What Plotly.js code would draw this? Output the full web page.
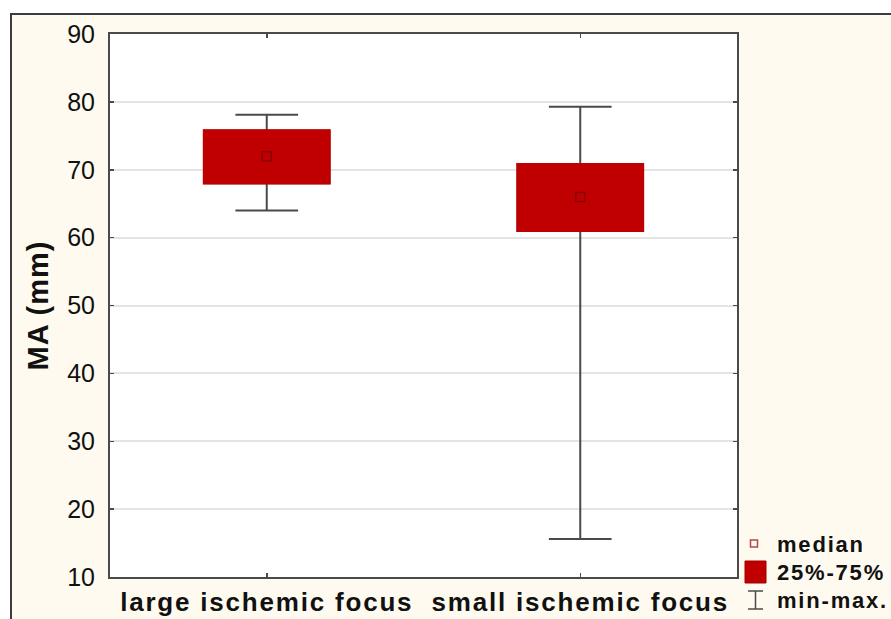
<!DOCTYPE html>
<html>
<head>
<meta charset="utf-8">
<script src="https://cdn.plot.ly/plotly-3.0.1.min.js"></script>
<style>
html, body { margin: 0; padding: 0; background: #ffffff; }
#chart { width: 891px; height: 619px; }
.xtick text { letter-spacing: 1.8px; }
.ytitle { letter-spacing: 1px; }
.annotation-text { letter-spacing: 1.8px; }
</style>
</head>
<body>
<div id="chart"></div>
<script>
// ---- data ----
const categories = ["large ischemic focus", "small ischemic focus"];
const minVals    = [64.0, 15.6];
const q1Vals     = [68.0, 61.0];
const medianVals = [72.0, 66.0];
const q3Vals     = [75.8, 70.8];
const maxVals    = [78.1, 79.3];
const yTicks     = [10, 20, 30, 40, 50, 60, 70, 80, 90];
const legendLabels = ["median", "25%-75%", "min-max."];

// ---- styling ----
const RED = "#c00000";
const DARKRED = "#a00000";
const GREY = "#4a4a4a";
const CREAM = "#fffaf0";

// plot area in pixels (for converting decoration positions)
const L = 110, R = 737, T = 34, B = 577;
const px = v => (v - L) / (R - L);
const py = v => (B - v) / (B - T);

const whiskerTrace = {
  type: "box",
  name: legendLabels[2],
  x: categories,
  q1: q1Vals, median: medianVals, q3: q3Vals,
  lowerfence: minVals, upperfence: maxVals,
  boxpoints: false,
  width: 0.4,
  whiskerwidth: 0.5,
  fillcolor: RED,
  line: { color: GREY, width: 2 },
  showlegend: false,
  hoverinfo: "skip"
};
const iqrTrace = {
  type: "box",
  name: legendLabels[1],
  x: categories,
  q1: q1Vals, median: medianVals, q3: q3Vals,
  lowerfence: q1Vals, upperfence: q3Vals,
  boxpoints: false,
  width: 0.4,
  whiskerwidth: 0,
  fillcolor: RED,
  line: { color: RED, width: 2.5 },
  showlegend: false,
  hoverinfo: "skip"
};
const medianTrace = {
  type: "scatter",
  mode: "markers",
  name: legendLabels[0],
  x: categories,
  y: medianVals,
  marker: { symbol: "square-open", size: 9, color: "#8a0000", line: { width: 1.5, color: "#8a0000" } },
  showlegend: false,
  hoverinfo: "skip"
};

const shapes = [
  // cream outer frame
  { type: "rect", xref: "paper", yref: "paper", layer: "below",
    x0: px(11), x1: px(900), y0: py(630), y1: py(14),
    fillcolor: CREAM, line: { color: "#3c3c3c", width: 2 } },
  // white plot area
  { type: "rect", xref: "paper", yref: "paper", layer: "below",
    x0: 0, x1: 1, y0: 0, y1: 1,
    fillcolor: "#ffffff", line: { width: 0 } },
  // legend: median symbol
  { type: "rect", xref: "paper", yref: "paper",
    x0: px(750.5), x1: px(757.5), y0: py(547), y1: py(540),
    fillcolor: "rgba(0,0,0,0)", line: { color: "#b04848", width: 1.5 } },
  // legend: 25-75 symbol
  { type: "rect", xref: "paper", yref: "paper",
    x0: px(745), x1: px(766), y0: py(583), y1: py(561),
    fillcolor: RED, line: { color: DARKRED, width: 1 } },
  // legend: min-max symbol
  { type: "line", xref: "paper", yref: "paper",
    x0: px(755.5), x1: px(755.5), y0: py(609), y1: py(591),
    line: { color: GREY, width: 1.5 } },
  { type: "line", xref: "paper", yref: "paper",
    x0: px(748), x1: px(763), y0: py(591), y1: py(591),
    line: { color: GREY, width: 1.5 } },
  { type: "line", xref: "paper", yref: "paper",
    x0: px(748), x1: px(763), y0: py(609), y1: py(609),
    line: { color: GREY, width: 1.5 } }
];

const legendY = [544, 572, 601];
const annotations = legendLabels.map((t, i) => ({
  text: t, xref: "paper", yref: "paper",
  x: px(775), y: py(legendY[i]), xanchor: "left", yanchor: "middle",
  showarrow: false,
  font: { family: "Liberation Sans, Arial, sans-serif", size: 22, weight: "bold", color: "#111111" }
}));

const layout = {
  width: 891, height: 619,
  margin: { l: L, r: 891 - R, t: T, b: 619 - B },
  paper_bgcolor: "#ffffff",
  plot_bgcolor: "rgba(0,0,0,0)",
  boxmode: "overlay",
  showlegend: false,
  font: { family: "Liberation Sans, Arial, sans-serif", color: "#111111" },
  xaxis: {
    type: "category",
    range: [-0.5, 1.5],
    showline: true, mirror: "ticks", linecolor: GREY, linewidth: 2,
    ticks: "inside", ticklen: 4, tickcolor: GREY, tickwidth: 1.5,
    showgrid: false, zeroline: false,
    tickfont: { size: 26, weight: "bold", color: "#111111" },
    ticklabelstandoff: 1
  },
  yaxis: {
    range: [10, 90],
    tickvals: yTicks,
    showline: true, mirror: "ticks", linecolor: GREY, linewidth: 2,
    ticks: "inside", ticklen: 4, tickcolor: GREY, tickwidth: 1.5,
    showgrid: true, gridcolor: "#e4e4e4", gridwidth: 2,
    zeroline: false,
    tickfont: { size: 25, color: "#111111" },
    ticklabelstandoff: 8,
    title: { text: "MA (mm)", font: { size: 29, weight: "bold", color: "#111111" }, standoff: 10 }
  },
  shapes: shapes,
  annotations: annotations
};

Plotly.newPlot("chart", [whiskerTrace, iqrTrace, medianTrace], layout, { staticPlot: true, displayModeBar: false });
</script>
</body>
</html>
